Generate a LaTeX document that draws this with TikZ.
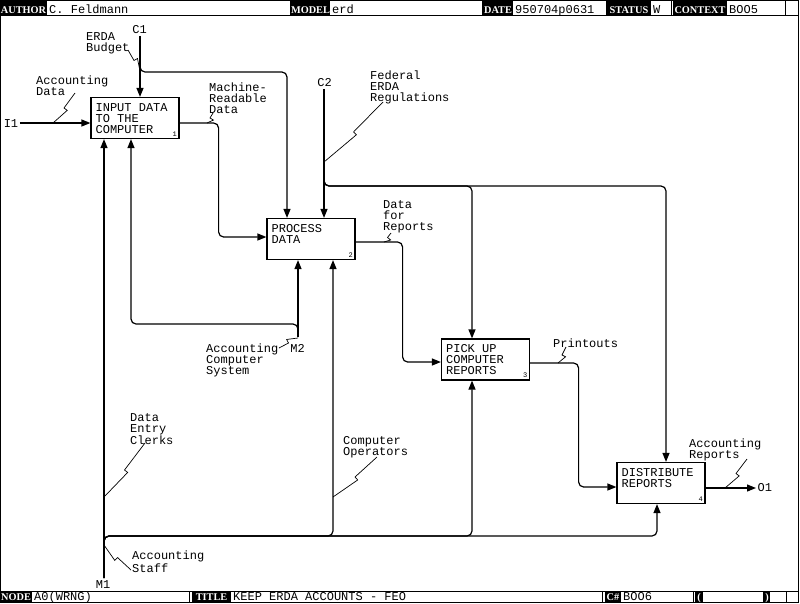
\documentclass[tikz,border=0pt]{standalone}
\usepackage{fontspec}
\setmainfont{Liberation Mono}
\newfontfamily\hdrfont{Liberation Serif}
\usetikzlibrary{arrows.meta,calc}
\tikzset{
  fnbox/.style={rectangle, draw, line width=1.2pt, minimum width=88pt, minimum height=41pt, inner sep=0pt},
  fntext/.style={anchor=north west, align=left, inner sep=0pt, font=\fontsize{12}{11}\selectfont},
  fnnum/.style={anchor=south east, inner sep=0pt, font=\fontsize{7}{7}\selectfont},
  arrlabel/.style={anchor=north west, align=left, inner sep=0pt, font=\fontsize{12}{11}\selectfont},
  icom/.style={inner sep=1.5pt, font=\fontsize{12}{11}\selectfont},
  flow/.style={-{Triangle[length=9pt, width=7pt]}, line width=1.2pt, rounded corners=5pt},
  squig/.style={line width=0.7pt},
  hdkey/.style={anchor=base, text=white, inner sep=0pt, font=\hdrfont\bfseries\fontsize{10.3}{10}\selectfont},
  hdval/.style={anchor=base west, inner sep=0pt, font=\fontsize{12}{12}\selectfont},
  hdrule/.style={line width=0.9pt},
}
\newcommand{\squig}[2]{\draw[squig] (#1) -- ($(#1)!0.5!(#2)$) coordinate (sqm) -- ($(sqm)!4pt!90:(#2)$) -- (#2);}

\begin{document}
\begin{tikzpicture}[x=1pt, y=-1pt]
  \useasboundingbox (0,0) rectangle (800,603);
  % frame and form bars
  \draw[line width=1.2pt] (0.8,0.6) rectangle (798.3,602.4);
  \draw[hdrule] (0,15.5) -- (799,15.5);
  \draw[hdrule] (0,591) -- (799,591);
  \foreach \x in {290,482,606,671,785} \draw[hdrule] (\x,0) -- (\x,15.5);
  \foreach \x in {189,602,693,763,786} \draw[hdrule] (\x,591) -- (\x,603);

  \fill (0,0) rectangle (47,15.5);
  \fill (291,0) rectangle (330,15.5);
  \fill (483,0) rectangle (513,15.5);
  \fill (607,0) rectangle (651,15.5);
  \fill (673,0) rectangle (727,15.5);
  \node[hdkey] (kAuthor) at (23.5,13.5) {AUTHOR};
  \node[hdkey] (kModel) at (310.5,13.5) {MODEL};
  \node[hdkey] (kDate) at (498,13.5) {DATE};
  \node[hdkey] (kStatus) at (629,13.5) {STATUS};
  \node[hdkey] (kContext) at (700,13.5) {CONTEXT};
  \node[hdval] (vAuthor) at (49,13.5) {C. Feldmann};
  \node[hdval] (vModel) at (332,13.5) {erd};
  \node[hdval] (vDate) at (515,13.5) {950704p0631};
  \node[hdval] (vStatus) at (653,13.5) {W};
  \node[hdval] (vContext) at (729,13.5) {BOO5};

  \fill (0,591) rectangle (32,603);
  \fill (192,591) rectangle (231,603);
  \fill (605,591) rectangle (621,603);
  \fill (695,591) rectangle (703,603);
  \fill (764,591) rectangle (770,603);
  \node[hdkey] (kNode) at (16,600) {NODE};
  \node[hdkey] (kTitle) at (211.5,600) {TITLE};
  \node[hdkey] (kCnum) at (613,600) {C\#};
  \node[hdkey] (kOpen) at (699,600) {(};
  \node[hdkey] (kClose) at (767,600) {)};
  \node[hdval] (vNode) at (34,600) {A0(WRNG)};
  \node[hdval] (vTitle) at (233,600) {KEEP ERDA ACCOUNTS - FEO};
  \node[hdval] (vCnum) at (623,600) {BOO6};

  % activity boxes
  \node[fnbox] (b1) at (135,118) {};
  \node[fnbox] (b2) at (311,239) {};
  \node[fnbox] (b3) at (485.5,359.5) {};
  \node[fnbox] (b4) at (661,483) {};
  \node[fntext] (t1) at ([xshift=5pt,yshift=-6pt]b1.north west) {INPUT DATA\\TO THE\\COMPUTER};
  \node[fntext] (t2) at ([xshift=5pt,yshift=-6pt]b2.north west) {PROCESS\\DATA};
  \node[fntext] (t3) at ([xshift=5pt,yshift=-6pt]b3.north west) {PICK UP\\COMPUTER\\REPORTS};
  \node[fntext] (t4) at ([xshift=5pt,yshift=-6pt]b4.north west) {DISTRIBUTE\\REPORTS};
  \node[fnnum] (n1) at ([xshift=-2.5pt,yshift=2.5pt]b1.south east) {1};
  \node[fnnum] (n2) at ([xshift=-2.5pt,yshift=2.5pt]b2.south east) {2};
  \node[fnnum] (n3) at ([xshift=-2.5pt,yshift=2.5pt]b3.south east) {3};
  \node[fnnum] (n4) at ([xshift=-2.5pt,yshift=2.5pt]b4.south east) {4};

  % arrow ends on the boxes
  \coordinate (b1i) at ([yshift=-5pt]b1.west);
  \coordinate (b1c) at ([xshift=5pt]b1.north);
  \coordinate (b1o) at ([yshift=-5pt]b1.east);
  \coordinate (b1m1) at ([xshift=-31pt]b1.south);
  \coordinate (b1m2) at ([xshift=-4pt]b1.south);
  \coordinate (b2i) at ([yshift=2pt]b2.west);
  \coordinate (b2c1) at ([xshift=-24pt]b2.north);
  \coordinate (b2c2) at ([xshift=13pt]b2.north);
  \coordinate (b2o) at ([yshift=-3pt]b2.east);
  \coordinate (b2m2) at ([xshift=-13pt]b2.south);
  \coordinate (b2m1) at ([xshift=22pt]b2.south);
  \coordinate (b3i) at ([yshift=-2.5pt]b3.west);
  \coordinate (b3c) at ([xshift=-13.5pt]b3.north);
  \coordinate (b3m) at ([xshift=-13.5pt]b3.south);
  \coordinate (b3o) at ([yshift=-3.5pt]b3.east);
  \coordinate (b4i) at ([yshift=-4pt]b4.west);
  \coordinate (b4c) at ([xshift=5pt]b4.north);
  \coordinate (b4m) at ([xshift=-4pt]b4.south);
  \coordinate (b4o) at ([yshift=-5pt]b4.east);

  % boundary arrows
  \node[icom] (i1) at (11,123.5) {I1};
  \node[icom] (c1) at (139.5,30) {C1};
  \node[icom] (c2) at (324.5,83) {C2};
  \node[icom] (m1) at (103,585) {M1};
  \node[icom] (m2) at (297.5,348) {M2};
  \node[icom, anchor=west] (o1) at (756,488) {O1};
  \coordinate (m1s) at (104,578);
  \coordinate (m2s) at (298,337);
  \coordinate (jc1) at (140,72);
  \coordinate (jc2) at (324,186);
  \coordinate (jm1) at (104,536);
  \coordinate (jm2) at (298,324);

  \draw[flow] (b1i -| i1.east) -- (b1i);
  \draw[flow] (c1.south -| b1c) -- (b1c);
  \draw[flow] ([yshift=8pt]jc1) -- (jc1) -| (b2c1);
  \draw[flow] (c2.south -| b2c2) -- (b2c2);
  \draw[flow] ([yshift=8pt]jc2) -- (jc2) -| (b3c);
  \draw[flow] ([yshift=8pt]jc2) -- (jc2) -| (b4c);
  \draw[flow] (m2s) -- (b2m2);
  \draw[flow] (m2s) -- (jm2) -| (b1m2);
  \draw[flow] (m1s) -- (b1m1);
  \draw[flow] (m1s) -- (jm1) -| (b2m1);
  \draw[flow] (m1s) -- (jm1) -| (b3m);
  \draw[flow] (m1s) -- (jm1) -| (b4m);
  \draw[flow] (b4o) -- (b4o -| o1.west);

  % box to box
  \draw[flow] (b1o) -- ++(39,0) |- (b2i);
  \draw[flow] (b2o) -- ++(47,0) |- (b3i);
  \draw[flow] (b3o) -- ++(48.5,0) |- (b4i);

  % arrow labels
  \node[arrlabel] (lAcctData) at (36,76) {Accounting\\Data};
  \node[arrlabel] (lBudget) at (86,32) {ERDA\\Budget};
  \node[arrlabel] (lMachine) at (209,83) {Machine-\\Readable\\Data};
  \node[arrlabel] (lRegs) at (370,71) {Federal\\ERDA\\Regulations};
  \node[arrlabel] (lDataRep) at (383,200) {Data\\for\\Reports};
  \node[arrlabel] (lPrint) at (553,339) {Printouts};
  \node[arrlabel] (lSystem) at (206,344) {Accounting\\Computer\\System};
  \node[arrlabel] (lClerks) at (130,413) {Data\\Entry\\Clerks};
  \node[arrlabel] (lOperators) at (343,436) {Computer\\Operators};
  \node[arrlabel] (lStaff) at (132,551) {Accounting\\Staff};
  \node[arrlabel] (lReports) at (689,439) {Accounting\\Reports};

  % squiggles
  \coordinate (qa1) at (75,93);   \coordinate (qb1) at (53,123);
  \coordinate (qa2) at (128,50);  \coordinate (qb2) at (140,71);
  \coordinate (qa3) at (213,113); \coordinate (qb3) at (207,123);
  \coordinate (qa4) at (383,102); \coordinate (qb4) at (324,162);
  \coordinate (qa5) at (391,233); \coordinate (qb5) at (384,242);
  \coordinate (qa6) at (566,347); \coordinate (qb6) at (558,363);
  \coordinate (qa7) at (279,348); \coordinate (qb7) at (298,338);
  \coordinate (qa8) at (145,443); \coordinate (qb8) at (104,497);
  \coordinate (qa9) at (377,457); \coordinate (qb9) at (333,497);
  \coordinate (qa10) at (131,570); \coordinate (qb10) at (104,545);
  \coordinate (qa11) at (747,459); \coordinate (qb11) at (725,488);
  \foreach \n in {1,...,11} \squig{qa\n}{qb\n};
\end{tikzpicture}
\end{document}
